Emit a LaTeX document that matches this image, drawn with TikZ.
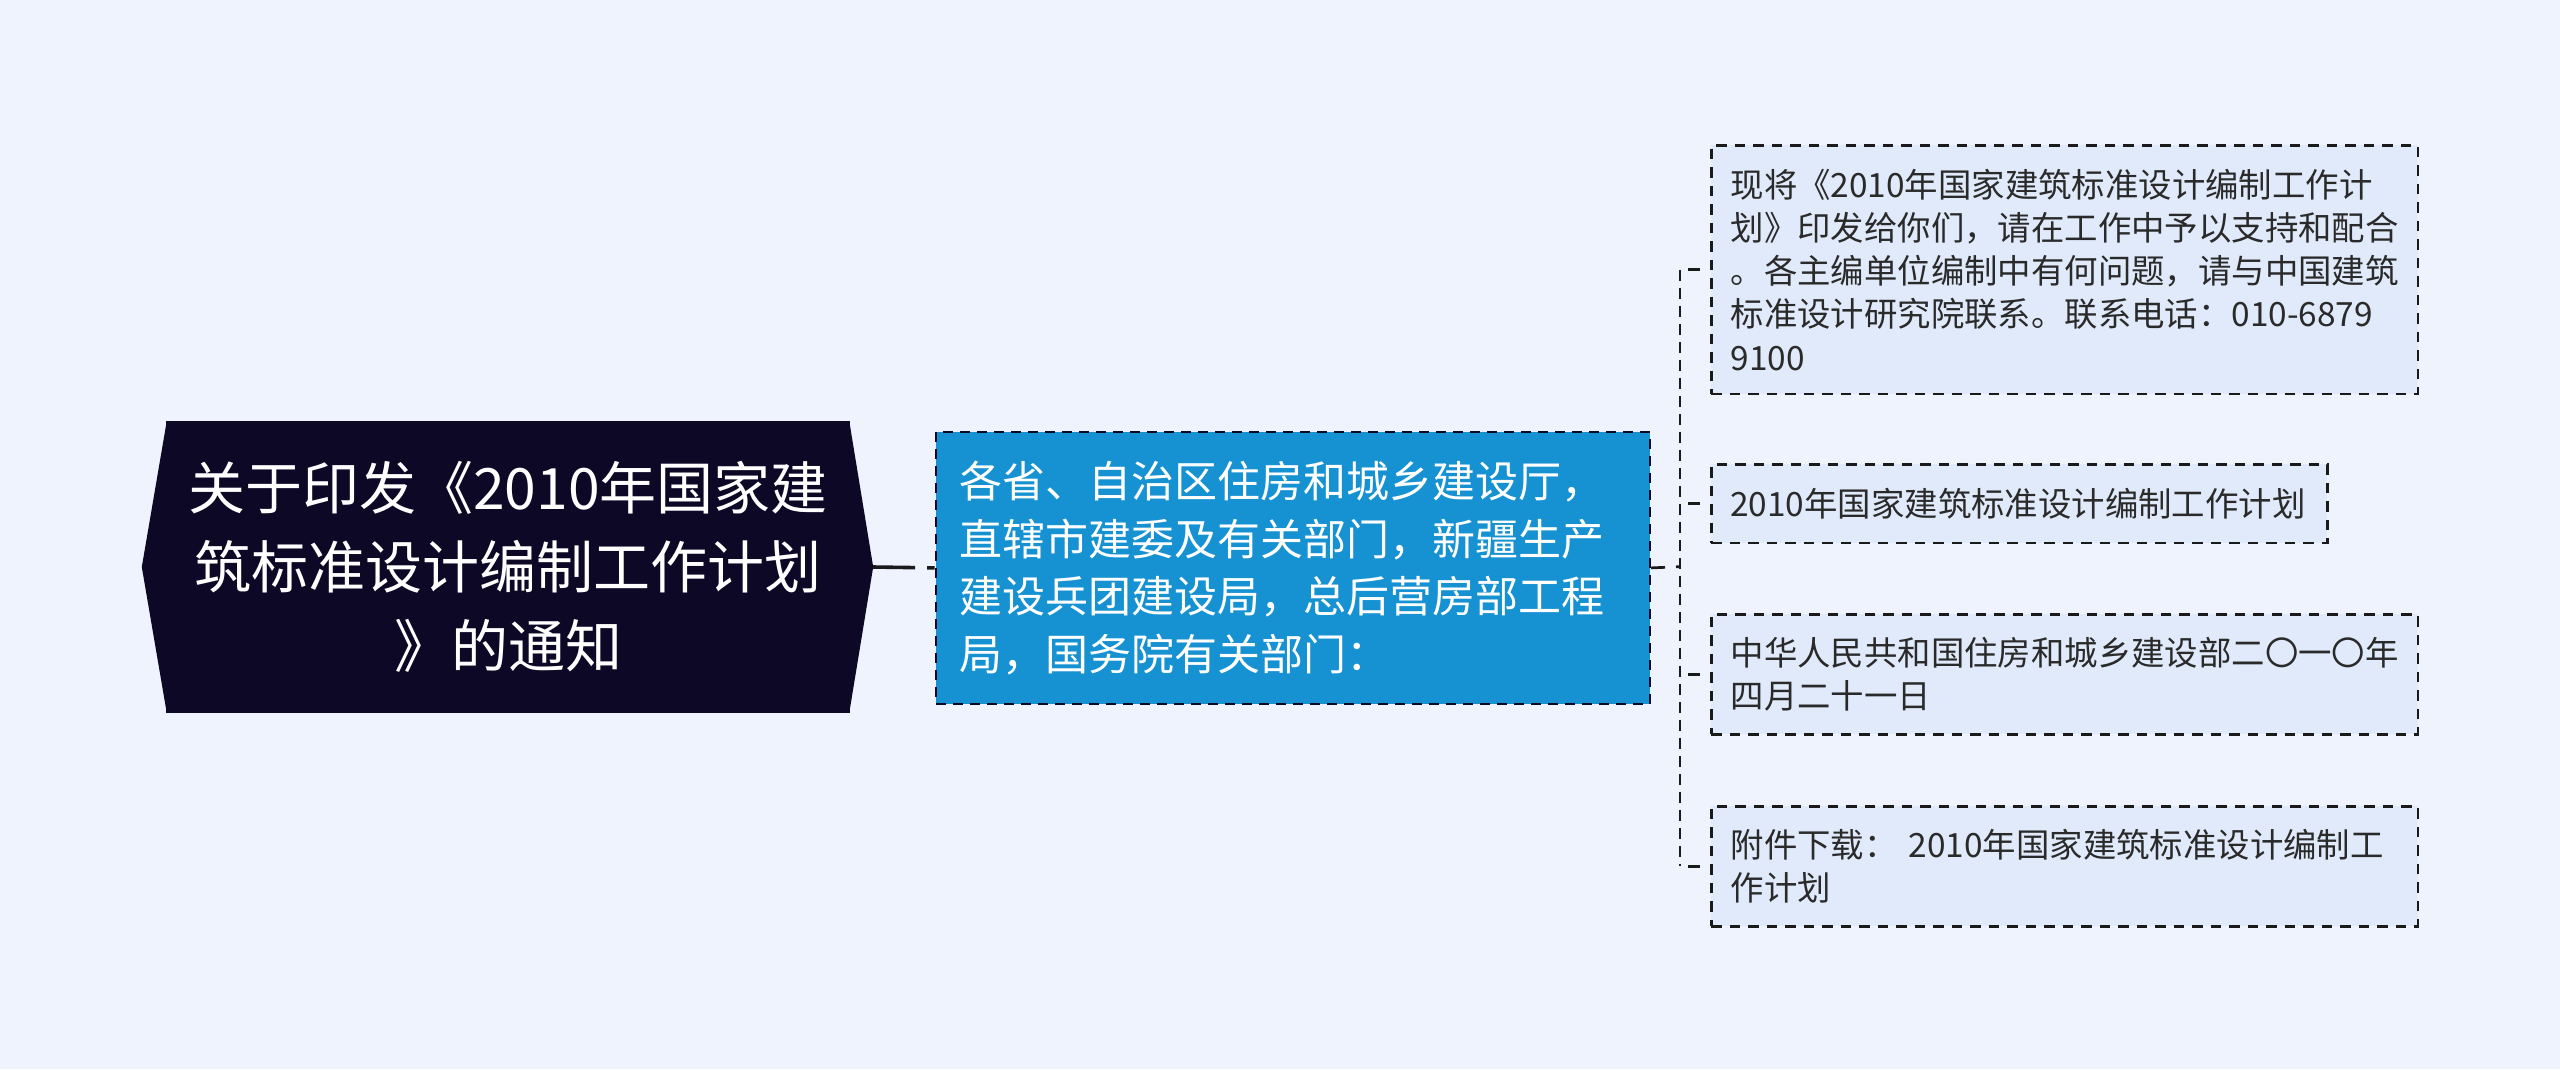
\documentclass[tikz,border=0pt]{standalone}
\usepackage{fontspec}
\setmainfont{Noto Sans CJK SC}
\definecolor{bgc}{HTML}{EEF3FD}
\definecolor{rootc}{HTML}{0C0826}
\definecolor{bluec}{HTML}{1691D2}
\definecolor{leafc}{HTML}{E1EAFA}
\definecolor{linec}{HTML}{1A1A1A}
\definecolor{textc}{HTML}{2A2A2A}
\begin{document}
\begin{tikzpicture}[x=1pt,y=-1pt,
  conn/.style={draw=linec,line width=2.7pt,dash pattern=on 11pt off 7pt},
  rootbox/.style={fill=rootc,text=white,font=\fontsize{57}{79}\selectfont,align=center,
    inner sep=0pt,minimum width=684pt,minimum height=292pt},
  bluebox/.style={fill=bluec,draw=rootc,line width=2.4pt,dash pattern=on 10pt off 7pt,
    text=white,font=\fontsize{43}{57.5}\selectfont,align=left,text width=667pt,
    inner xsep=23.5pt,inner ysep=0pt,minimum height=272pt,anchor=north west},
  leafbox/.style={fill=leafc,draw=linec,line width=2.7pt,dash pattern=on 10.5pt off 8pt,
    text=textc,font=\fontsize{33.4}{43.3}\selectfont,align=left,text width=668pt,
    inner xsep=19.25pt,inner ysep=0pt,anchor=north west}
]
\fill[bgc] (0,0) rectangle (2560,1069);
\useasboundingbox (0,0) rectangle (2560,1069);

% root
\node[rootbox] (root) at (508,567) {关于印发《2010年国家建\\筑标准设计编制工作计划\\》的通知};
\fill[rootc] ([xshift=1pt]root.north west) -- ([xshift=-24pt]root.west) -- ([xshift=1pt]root.south west) -- cycle;
\fill[rootc] ([xshift=-1pt]root.north east) -- ([xshift=23pt]root.east) -- ([xshift=-1pt]root.south east) -- cycle;
\coordinate (rtip) at ([xshift=23pt]root.east);

% main child
\node[bluebox] (blue) at (934.6,430.7) {各省、自治区住房和城乡建设厅，\\直辖市建委及有关部门，新疆生产\\建设兵团建设局，总后营房部工程\\局，国务院有关部门：};

% leaves
\node[leafbox,minimum height=248.7pt] (l1) at (1710,144) {现将《2010年国家建筑标准设计编制工作计\\划》印发给你们，请在工作中予以支持和配合\\。各主编单位编制中有何问题，请与中国建筑\\标准设计研究院联系。联系电话：010-6879\\9100};
\node[leafbox,text width=578pt,inner xsep=19pt,minimum height=78.7pt] (l2) at (1710,463) {2010年国家建筑标准设计编制工作计划};
\node[leafbox,minimum height=120pt] (l3) at (1710,613) {中华人民共和国住房和城乡建设部二〇一〇年\\四月二十一日};
\node[leafbox,minimum height=120pt] (l4) at (1710,805) {附件下载： 2010年国家建筑标准设计编制工\\作计划};

% connectors
\draw[conn,line width=3.6pt,dash pattern=on 42pt off 12pt on 30pt off 0pt] (rtip) -- (blue.west);
\coordinate (jx) at (1680,566.7);
\draw[conn,dash pattern=on 14pt off 11pt on 30pt off 0pt] (blue.east) -- (jx);
\draw[conn] (jx |- l1.west) -- (jx |- l4.west);
\foreach \n in {l1,l2,l3,l4}{
  \draw[conn,dash pattern=on 0pt off 8pt on 12pt off 40pt] (jx |- \n.west) -- (\n.west);
}
\end{tikzpicture}
\end{document}
